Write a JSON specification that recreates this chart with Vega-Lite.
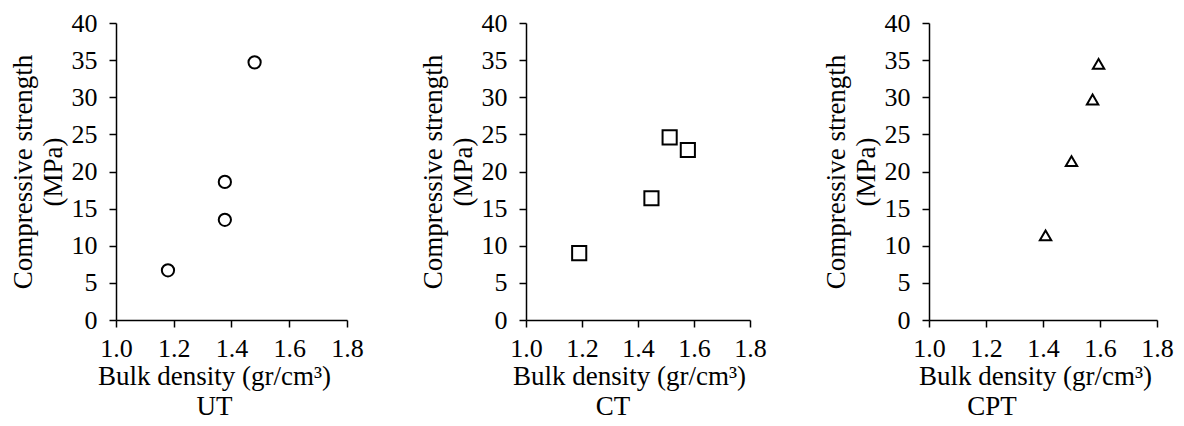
{
  "$schema": "https://vega.github.io/schema/vega-lite/v6.json",
  "padding": {"left": 8, "top": 10, "right": 5, "bottom": 0},
  "datasets": {
    "ut": [
      {"density": 1.18, "strength": 6.7},
      {"density": 1.377, "strength": 18.6},
      {"density": 1.377, "strength": 13.5},
      {"density": 1.48, "strength": 34.7}
    ],
    "ct": [
      {"density": 1.19, "strength": 9.0},
      {"density": 1.448, "strength": 16.4},
      {"density": 1.513, "strength": 24.6},
      {"density": 1.578, "strength": 22.9}
    ],
    "cpt": [
      {"density": 1.409, "strength": 11.4},
      {"density": 1.5, "strength": 21.4},
      {"density": 1.574, "strength": 29.7},
      {"density": 1.595, "strength": 34.5}
    ]
  },
  "spacing": 54,
  "hconcat": [
    {
      "width": 231, "height": 297,
      "data": {"name": "ut"},
      "title": {"text": "UT", "dx": -17},
      "mark": {"type": "point", "shape": "circle", "filled": false, "stroke": "black", "strokeWidth": 2, "size": 150, "opacity": 1},
      "encoding": {
        "x": {"field": "density", "type": "quantitative", "scale": {"domain": [1.0, 1.8], "nice": false, "zero": false}, "axis": {"values": [1.0, 1.2, 1.4, 1.6, 1.8], "format": ".1f", "title": "Bulk density (gr/cm³)", "titleX": 98}},
        "y": {"field": "strength", "type": "quantitative", "scale": {"domain": [0, 40], "nice": false}, "axis": {"values": [0, 5, 10, 15, 20, 25, 30, 35, 40], "title": ["Compressive strength", "(MPa)"]}}
      }
    },
    {
      "width": 224, "height": 297,
      "data": {"name": "ct"},
      "title": {"text": "CT", "dx": -25},
      "mark": {"type": "point", "shape": "square", "filled": false, "stroke": "black", "strokeWidth": 2, "size": 200, "opacity": 1},
      "encoding": {
        "x": {"field": "density", "type": "quantitative", "scale": {"domain": [1.0, 1.8], "nice": false, "zero": false}, "axis": {"values": [1.0, 1.2, 1.4, 1.6, 1.8], "format": ".1f", "title": "Bulk density (gr/cm³)", "titleX": 103}},
        "y": {"field": "strength", "type": "quantitative", "scale": {"domain": [0, 40], "nice": false}, "axis": {"values": [0, 5, 10, 15, 20, 25, 30, 35, 40], "title": ["Compressive strength", "(MPa)"]}}
      }
    },
    {
      "width": 228, "height": 297,
      "data": {"name": "cpt"},
      "title": {"text": "CPT", "dx": -51},
      "mark": {"type": "point", "shape": "triangle-up", "filled": false, "stroke": "black", "strokeWidth": 2, "size": 130, "opacity": 1},
      "encoding": {
        "x": {"field": "density", "type": "quantitative", "scale": {"domain": [1.0, 1.8], "nice": false, "zero": false}, "axis": {"values": [1.0, 1.2, 1.4, 1.6, 1.8], "format": ".1f", "title": "Bulk density (gr/cm³)", "titleX": 106}},
        "y": {"field": "strength", "type": "quantitative", "scale": {"domain": [0, 40], "nice": false}, "axis": {"values": [0, 5, 10, 15, 20, 25, 30, 35, 40], "title": ["Compressive strength", "(MPa)"]}}
      }
    }
  ],
  "config": {
    "background": "white",
    "font": "Liberation Serif",
    "view": {"stroke": null},
    "axis": {
      "grid": false,
      "domainColor": "black", "domainWidth": 1.5,
      "tickColor": "black", "tickWidth": 1.5, "tickSize": 7,
      "labelFont": "Liberation Serif", "labelFontSize": 26, "labelColor": "black",
      "titleFont": "Liberation Serif", "titleFontSize": 27, "titleFontWeight": "normal", "titleColor": "black"
    },
    "axisY": {"labelPadding": 12, "titlePadding": 4, "titleLineHeight": 30},
    "axisX": {"labelPadding": 8, "titlePadding": 2, "labelFlush": false},
    "title": {"orient": "bottom", "anchor": "middle", "font": "Liberation Serif", "fontSize": 27, "fontWeight": "normal", "color": "black", "offset": 5}
  }
}
